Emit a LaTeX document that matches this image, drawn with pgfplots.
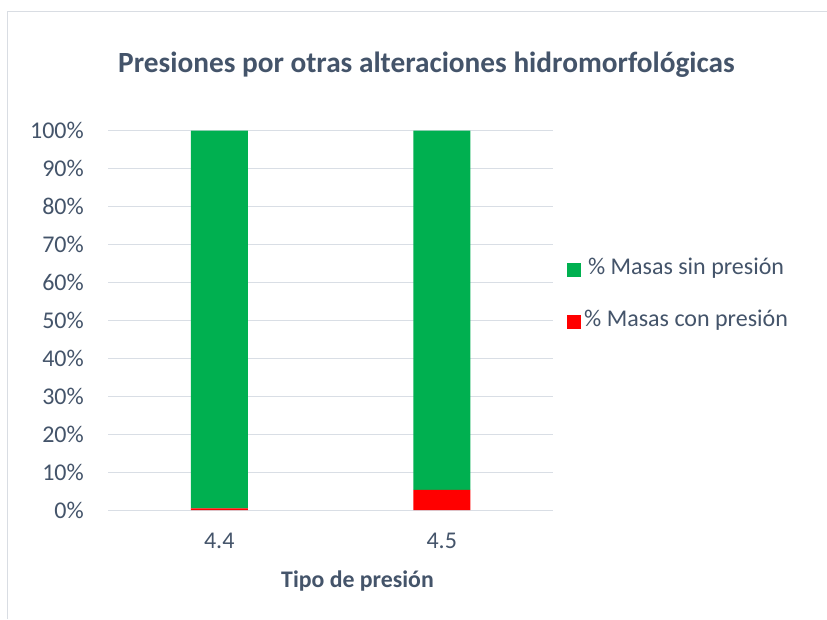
\documentclass[border=0pt]{standalone}
\usepackage{pgfplots}
\pgfplotsset{compat=1.18}
\usepackage{fontspec}
\setmainfont{Carlito}
\definecolor{txt}{HTML}{44546A}
\definecolor{gridc}{HTML}{D9DEE5}
\definecolor{borderc}{HTML}{D9DDE3}
\definecolor{mgreen}{HTML}{00B050}
\definecolor{mred}{HTML}{FF0000}
\begin{document}
\begin{tikzpicture}[x=1pt,y=1pt]
\useasboundingbox (0,0) rectangle (827,619);
\fill[white] (0,0) rectangle (827,619);
\draw[borderc, line width=1pt] (7.5,0) -- (7.5,607.5) -- (827,607.5);
\begin{axis}[
  at={(108pt,109pt)}, anchor=south west,
  width=445pt, height=379.3pt, scale only axis,
  ybar stacked, bar width=57pt,
  xmin=-0.5, xmax=1.5, ymin=0, ymax=100,
  xtick={0,1}, xticklabels={4.4,4.5},
  ytick={0,10,...,100},
  yticklabel={\pgfmathprintnumber[assume math mode=true]{\tick}\%},
  axis line style={draw=none},
  major tick length=0pt,
  ymajorgrids, grid style={gridc, line width=1pt},
  tick label style={font=\fontsize{24}{28}\selectfont, text=txt},
  yticklabel style={anchor=east, inner sep=0pt, xshift=-24pt},
  xticklabel style={anchor=north, inner sep=0pt, yshift=-23pt},
  reverse legend,
  legend style={draw=none, fill=none, at={(1.0315,0.5643)}, anchor=west,
    inner sep=0pt, row sep=34pt, column sep=3pt,
    font=\fontsize{24}{28}\selectfont, text=txt,
    nodes={inner sep=0pt, text height=14pt, text depth=4pt}},
  legend image code/.code={\fill[#1] (0pt,-7pt) rectangle (14pt,7pt);},
]
\addplot[fill=mred, draw=none] coordinates {(0,0.4) (1,5.3)};
\addplot[fill=mgreen, draw=none] coordinates {(0,99.6) (1,94.7)};
\legend{\% Masas con presión, \% Masas sin presión}
\end{axis}
\node[anchor=base, font=\bfseries\fontsize{29.3}{34}\selectfont, text=txt] at (426.5,546) {Presiones por otras alteraciones hidromorfológicas};
\node[anchor=base, font=\bfseries\fontsize{23.8}{28}\selectfont, text=txt] at (357.5,32) {Tipo de presión};
\end{tikzpicture}
\end{document}
